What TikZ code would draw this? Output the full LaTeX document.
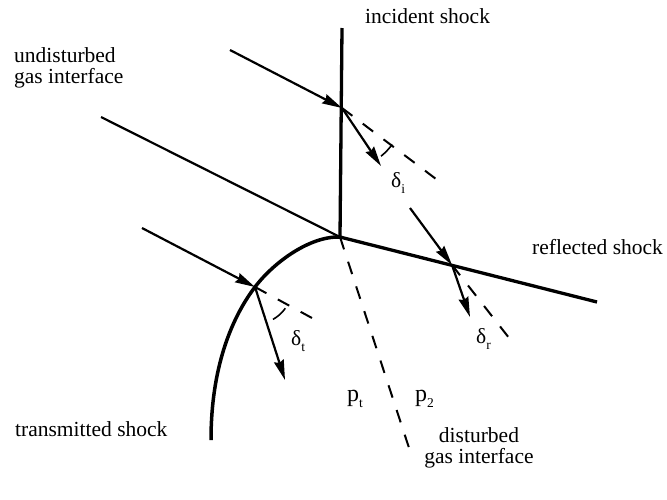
\documentclass[tikz,border=0pt]{standalone}
\usepackage{fontspec}
\setmainfont{Liberation Serif}
\usetikzlibrary{arrows.meta}

\tikzset{
  shock/.style={line width=3.3pt},
  iface/.style={line width=2.2pt},
  ray/.style={line width=2.2pt,-{Stealth[length=20pt,width=10pt,inset=2pt]}},
  extline/.style={line width=2pt,dash pattern=on 13pt off 13pt},
  anglemark/.style={line width=1.6pt},
  lbl/.style={font=\fontsize{21.5}{21}\selectfont,inner sep=0pt,anchor=base west},
  plbl/.style={font=\fontsize{24}{24}\selectfont,inner sep=0pt,anchor=base west}
}
\newcommand{\lowsub}[1]{\raisebox{-6pt}{\fontsize{13.5}{13.5}\selectfont #1}}

\begin{document}
\begin{tikzpicture}[x=1pt,y=-1pt]
    \useasboundingbox (0,0) rectangle (667,499);
    % Punti sugli urti
    \coordinate (T) at (340,237);
    \coordinate (I1) at (342,108);
    \coordinate (R1) at (452,265);
    \coordinate (Tr) at (255,287);
    \coordinate (Itop) at (342,28);
    \coordinate (Uend) at (101,117);
    \coordinate (Rend) at (597,302);
    \coordinate (Tend) at (211,440);
    \coordinate (Dend) at (412,457);

    % Urto incidente e urto riflesso
    \draw[shock] (Itop) -- (T);
    \draw[shock] (T) -- (Rend);
    % Interfaccia indisturbata
    \draw[iface] (Uend) -- (T);
    % Urto trasmesso
    \draw[line width=3.5pt] (T) .. controls (310,236) and (274,262) .. (Tr)
        .. controls (236,312) and (211,360) .. (Tend);
    % Interfaccia disturbata
    \draw[extline] (T) -- (Dend);

    % Raggio attraverso l'urto incidente
    \coordinate (A0) at (230,50);
    \coordinate (A1) at (381,166);
    \coordinate (A2) at (440,182);
    \draw[ray] (A0) -- (I1);
    \draw[ray] (I1) -- (A1);
    \draw[extline] (I1) -- (A2);
    \draw[anglemark,shift={(I1)}] plot[domain=36:51,samples=12] (\x:62);

    % Raggio attraverso l'urto riflesso
    \coordinate (B0) at (410,208);
    \coordinate (B1) at (470,317);
    \coordinate (B2) at (513,343);
    \draw[ray] (B0) -- (R1);
    \draw[ray] (R1) -- (B1);
    \draw[extline] (R1) -- (B2);

    % Raggio attraverso l'urto trasmesso
    \coordinate (C0) at (142,228);
    \coordinate (C1) at (285,380);
    \coordinate (C2) at (312,318);
    \draw[ray] (C0) -- (Tr);
    \draw[ray] (Tr) -- (C1);
    \draw[extline] (Tr) -- (C2);
    \draw[anglemark,shift={(Tr)}] plot[domain=35:61,samples=12] (\x:37);

    % Etichette
    \node[lbl] (inc) at (365,23) {incident shock};
    \node[lbl,align=left] (undist) at (14,83) {undisturbed\\gas interface};
    \node[lbl] (refl) at (532,254) {reflected shock};
    \node[lbl] (trans) at (15,436) {transmitted shock};
    \node[lbl,align=center,anchor=base] (dist) at (479,463) {disturbed\\gas interface};
    \node[lbl] (di) at (391,187) {δ\lowsub{i}};
    \node[lbl] (dr) at (476,343) {δ\lowsub{r}};
    \node[lbl] (dt) at (291,345) {δ\lowsub{t}};
    \node[plbl] (pt) at (347,401) {p\lowsub{t}};
    \node[plbl] (p2) at (415,401) {p\lowsub{2}};
\end{tikzpicture}
\end{document}
